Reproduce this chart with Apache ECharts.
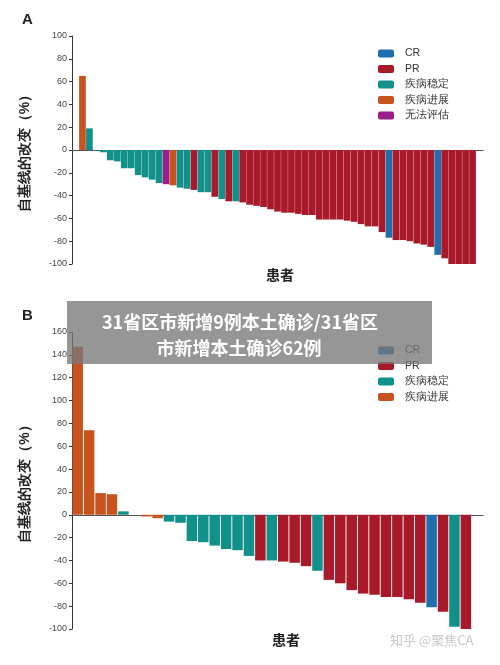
<!DOCTYPE html>
<html><head><meta charset="utf-8">
<script src="https://cdn.jsdelivr.net/npm/echarts@6/dist/echarts.min.js"></script>
<style>html,body{margin:0;padding:0;background:#fff}#c{width:500px;height:665px}</style>
</head><body><div id="c"></div>
<script>
const statusNames = ['CR','PR','疾病稳定','疾病进展','无法评估'];
const statusColors = ['#1f6fae','#a8192a','#12908a','#c8531e','#9b1f8a'];
// Panel A: values and status (index into statusNames); null = empty slot
const valuesA = [null,65,19,-0.6,-2,-9,-10,-16,-16,-22,-24,-26,-29,-30,-31,-33,-34,-35,-37,-37,-41,-43,-45,-45,-46,-48,-49,-50,-52,-54,-55,-55,-56,-57,-57,-61,-61,-61,-61,-62,-63,-65,-67,-67,-72,-77,-79,-79,-80,-82,-83,-85,-92,-95,-100,-100,-100,-100,null];
const statusA = [null,3,2,2,2,2,2,2,2,2,2,2,2,4,3,2,2,1,2,2,1,2,1,2,1,1,1,1,1,1,1,1,1,1,1,1,1,1,1,1,1,1,1,1,1,0,1,1,1,1,1,1,0,1,1,1,1,1,null];
// Panel B
const valuesB = [147,74,19,18,3,null,-1.5,-3,-6,-7,-23,-24,-27,-30,-31,-36,-40,-40,-41,-42,-45,-49,-57,-60,-66,-69,-70,-72,-72,-74,-77,-81,-85,-98,-100];
const statusB = [3,3,3,3,2,null,3,3,2,2,2,2,2,2,2,2,1,2,1,1,1,2,1,1,1,1,1,1,1,1,1,0,1,2,1];
const ticksA = {min:-100,max:100,interval:20};
const ticksB = {min:-100,max:160,interval:20};

function seriesFor(vals, stats, gi, nStatus, gap){
  const out=[];
  for(let s=0;s<nStatus;s++){
    out.push({type:'bar',name:statusNames[s],xAxisIndex:gi,yAxisIndex:gi,stack:'g'+gi,
      barCategoryGap:gap,itemStyle:{color:statusColors[s]},
      data:vals.map((v,i)=>stats[i]===s&&v!==null?v:'-')});
  }
  return out;
}
const yName='自基线的改变（%）';
function yAx(gi,t){return {gridIndex:gi,type:'value',min:t.min,max:t.max,interval:t.interval,
  axisLine:{show:true,lineStyle:{color:'#333'}},axisTick:{show:true,length:3,lineStyle:{color:'#333'}},
  splitLine:{show:false},axisLabel:{fontSize:9,color:'#444',margin:5},
  name:yName,nameLocation:'middle',nameRotate:90,nameGap:40,
  nameTextStyle:{fontSize:14,fontWeight:'bold',color:'#222'}};}
function xAx(gi,n){return {gridIndex:gi,type:'category',data:Array.from({length:n},(_,i)=>String(i+1)),
  axisLine:{onZero:true,lineStyle:{color:'#555',width:1.2}},axisTick:{show:false},axisLabel:{show:false}};}
const chart=echarts.init(document.getElementById('c'));
chart.setOption({
  animation:false,
  grid:[{left:72,top:36,width:411,height:228},{left:72,top:332,width:411,height:297}],
  xAxis:[xAx(0,valuesA.length),{...xAx(1,valuesB.length),boundaryGap:true,min:-0.3,max:35.3}],
  yAxis:[yAx(0,ticksA),yAx(1,ticksB)],
  legend:[
    {data:statusNames,orient:'vertical',left:373,top:43,itemWidth:16,itemHeight:8,itemGap:4.5,textStyle:{fontSize:10.5,color:'#333',padding:[0,0,0,6]},selectedMode:false},
    {data:statusNames.slice(0,4),orient:'vertical',left:373,top:340,itemWidth:16,itemHeight:8,itemGap:4.5,textStyle:{fontSize:10.5,color:'#333',padding:[0,0,0,6]},selectedMode:false}
  ],
  series:[...seriesFor(valuesA,statusA,0,5,'4%'),...seriesFor(valuesB,statusB,1,4,'8%')],
  graphic:[
    {type:'text',left:22,top:12,style:{text:'A',font:'bold 15px sans-serif',fill:'#222'}},
    {type:'text',left:22,top:308,style:{text:'B',font:'bold 15px sans-serif',fill:'#222'}},
    {type:'text',left:266,top:268,style:{text:'患者',font:'bold 14px "Noto Sans CJK SC"',fill:'#222'}},
    {type:'text',left:272,top:633,style:{text:'患者',font:'bold 14px "Noto Sans CJK SC"',fill:'#222'}},
    {type:'text',left:390,top:634,style:{text:'知乎 @聚焦CA',font:'13px "Noto Sans CJK SC"',fill:'#c8c8c8'}},
    {type:'rect',shape:{x:67,y:301,width:365,height:63},style:{fill:'rgba(120,120,120,0.78)'},z:100},
    {type:'text',x:240,y:322,z:101,style:{text:'31省区市新增9例本土确诊/31省区',font:'bold 18px "Noto Sans CJK SC"',fill:'#fff',align:'center',verticalAlign:'middle'}},
    {type:'text',x:239,y:348,z:101,style:{text:'市新增本土确诊62例',font:'bold 18px "Noto Sans CJK SC"',fill:'#fff',align:'center',verticalAlign:'middle'}}
  ]
});
</script></body></html>
